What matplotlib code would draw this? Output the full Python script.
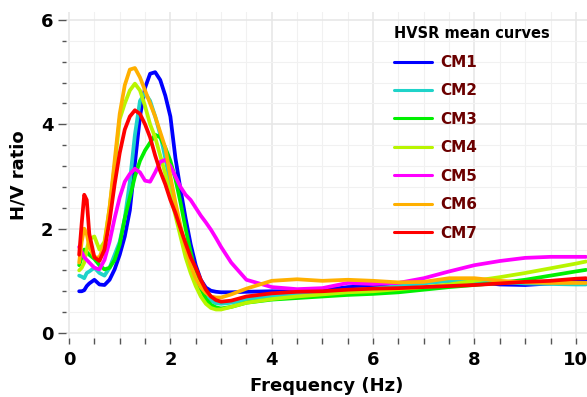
import matplotlib.pyplot as plt
from matplotlib.ticker import MultipleLocator

# frequency samples (Hz) shared by all curves
freq = [0.2, 0.25, 0.3, 0.35, 0.4, 0.5, 0.6, 0.7, 0.8, 0.9, 1.0, 1.1, 1.2, 1.3,
        1.4, 1.5, 1.6, 1.7, 1.8, 1.9, 2.0, 2.1, 2.2, 2.3, 2.4, 2.5, 2.6, 2.7,
        2.8, 2.9, 3.0, 3.2, 3.5, 4.0, 4.5, 5.0, 5.5, 6.0, 6.5, 7.0, 7.5, 8.0,
        8.5, 9.0, 9.5, 10.0, 10.2]

cm1 = [0.80, 0.80, 0.82, 0.90, 0.95, 1.02, 0.93, 0.92, 1.02, 1.22, 1.50, 1.85,
       2.35, 3.25, 4.15, 4.70, 4.97, 5.00, 4.85, 4.55, 4.15, 3.35, 2.75, 2.20,
       1.70, 1.30, 1.02, 0.87, 0.81, 0.79, 0.78, 0.78, 0.79, 0.80, 0.80, 0.82,
       0.88, 0.90, 0.95, 0.97, 1.00, 0.98, 0.93, 0.92, 0.95, 1.00, 1.02]
cm2 = [1.10, 1.08, 1.05, 1.15, 1.18, 1.25, 1.15, 1.10, 1.25, 1.50, 1.75, 2.20,
       2.90, 3.80, 4.45, 4.60, 4.45, 4.15, 3.80, 3.35, 2.85, 2.40, 2.00, 1.62,
       1.30, 1.05, 0.85, 0.72, 0.62, 0.57, 0.56, 0.58, 0.64, 0.70, 0.74, 0.78,
       0.82, 0.85, 0.90, 0.95, 1.00, 1.00, 0.97, 0.95, 0.94, 0.93, 0.93]
cm3 = [1.30, 1.45, 1.60, 1.55, 1.50, 1.42, 1.30, 1.22, 1.25, 1.40, 1.70, 2.20,
       2.60, 3.00, 3.30, 3.50, 3.65, 3.80, 3.75, 3.55, 3.30, 2.95, 2.50, 2.00,
       1.55, 1.15, 0.85, 0.65, 0.54, 0.49, 0.47, 0.50, 0.58, 0.64, 0.67, 0.70,
       0.73, 0.75, 0.78, 0.83, 0.88, 0.92, 0.96, 1.02, 1.10, 1.18, 1.21]
cm4 = [1.20, 1.25, 1.35, 1.60, 1.80, 1.85, 1.60, 1.75, 2.40, 3.20, 4.10, 4.40,
       4.65, 4.78, 4.65, 4.35, 4.00, 3.75, 3.40, 3.05, 2.65, 2.25, 1.85, 1.45,
       1.15, 0.90, 0.70, 0.56, 0.48, 0.45, 0.45, 0.50, 0.58, 0.65, 0.70, 0.74,
       0.78, 0.80, 0.84, 0.88, 0.93, 1.00, 1.07, 1.15, 1.24, 1.33, 1.37]
cm5 = [1.65, 1.55, 1.45, 1.40, 1.35, 1.25, 1.22, 1.40, 1.75, 2.20, 2.60, 2.90,
       3.05, 3.15, 3.08, 2.92, 2.90, 3.08, 3.28, 3.32, 3.20, 3.00, 2.80, 2.65,
       2.55, 2.40, 2.25, 2.12, 1.98, 1.82, 1.65, 1.35, 1.02, 0.88, 0.84, 0.86,
       0.96, 0.94, 0.96, 1.05, 1.18, 1.30, 1.38, 1.44, 1.46, 1.46, 1.46]
cm6 = [1.35, 1.75, 2.00, 1.90, 1.65, 1.45, 1.45, 1.70, 2.40, 3.30, 4.20, 4.75,
       5.05, 5.08, 4.90, 4.65, 4.40, 4.15, 3.85, 3.55, 3.00, 2.50, 2.05, 1.65,
       1.30, 1.05, 0.88, 0.77, 0.70, 0.68, 0.68, 0.74, 0.85, 1.00, 1.03, 1.00,
       1.02, 1.00, 0.97, 0.98, 1.05, 1.05, 1.00, 0.97, 0.96, 0.96, 0.96]
cm7 = [1.50, 2.10, 2.65, 2.55, 1.90, 1.45, 1.38, 1.60, 2.15, 2.85, 3.45, 3.90,
       4.15, 4.27, 4.20, 4.00, 3.75, 3.40, 3.10, 2.85, 2.55, 2.30, 2.00, 1.72,
       1.45, 1.25, 1.02, 0.83, 0.70, 0.63, 0.60, 0.62, 0.70, 0.76, 0.79, 0.80,
       0.83, 0.85, 0.86, 0.88, 0.90, 0.92, 0.95, 0.98, 1.00, 1.04, 1.05]

labels = ['CM1', 'CM2', 'CM3', 'CM4', 'CM5', 'CM6', 'CM7']
series = [cm1, cm2, cm3, cm4, cm5, cm6, cm7]
colors = ['#0000ff', '#1fd3c9', '#00f000', '#b8f500', '#ff00ff', '#ffb000', '#ff0000']

fig = plt.figure(figsize=(5.87, 3.97), dpi=100)
ax = fig.add_axes([0.1124, 0.1481, 0.8876, 0.8212])

for y, c, lab in zip(series, colors, labels):
    ax.plot(freq, y, color=c, lw=2.7, label=lab, solid_capstyle='round')

ax.set_xlim(-0.06, 10.22)
ax.set_ylim(-0.1, 6.15)
ax.xaxis.set_major_locator(MultipleLocator(2))
ax.xaxis.set_minor_locator(MultipleLocator(0.5))
ax.yaxis.set_major_locator(MultipleLocator(2))
ax.yaxis.set_minor_locator(MultipleLocator(0.4))

for s in ax.spines.values():
    s.set_visible(False)

ax.grid(which='major', color='#e6e6e6', lw=1.1, zorder=0)
ax.grid(which='minor', color='#f1f1f1', lw=0.8, zorder=0)
ax.set_axisbelow(True)

ax.tick_params(axis='x', which='both', direction='out', length=4, width=1,
               color='#555555', labelsize=13, pad=5)
ax.tick_params(axis='y', which='major', direction='out', length=6, width=1,
               color='#555555', labelsize=13, pad=3)
ax.tick_params(axis='y', which='minor', direction='out', length=3, width=1,
               color='#555555')
for t in ax.get_xticklabels() + ax.get_yticklabels():
    t.set_fontweight('bold')

ax.set_xlabel('Frequency (Hz)', fontsize=13, fontweight='bold', labelpad=6)
ax.set_ylabel('H/V ratio', fontsize=13, fontweight='bold', labelpad=10)

leg = ax.legend(loc='upper left', bbox_to_anchor=(0.617, 0.975), frameon=False,
                title='HVSR mean curves', handlelength=2.5, handletextpad=0.55,
                labelspacing=0.88, borderaxespad=0,
                prop={'size': 11, 'weight': 'bold'},
                title_fontproperties={'size': 10.5, 'weight': 'bold'},
                labelcolor='#6b0000', alignment='left')
for h in leg.legend_handles:
    h.set_linewidth(2.2)

fig.savefig('out.png', dpi=100, facecolor='white')
